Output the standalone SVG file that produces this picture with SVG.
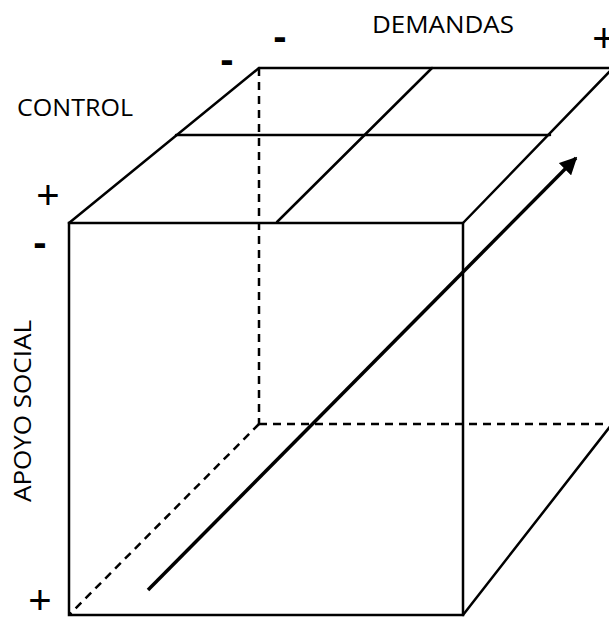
<svg xmlns="http://www.w3.org/2000/svg" width="609" height="617" viewBox="0 0 609 617">
<style>
.edge{fill:none;stroke:#000;stroke-width:2.5;stroke-linecap:round}
.hidden{fill:none;stroke:#000;stroke-width:2.5;stroke-dasharray:8 6}
.lbl{font-family:"Open Sans","Liberation Sans",sans-serif;font-size:24px;fill:#000}
.sign{font-family:"Liberation Sans",Arial,sans-serif;font-size:40px;fill:#000;text-anchor:middle}
</style>
<defs>
<marker id="ah" viewBox="0 0 10 10" refX="9" refY="5" markerWidth="5" markerHeight="5" orient="auto" markerUnits="strokeWidth">
<path d="M0,0 L10,5 L0,10 z" fill="#000"/>
</marker>
</defs>
<rect width="609" height="617" fill="#fff"/>
<g id="cube-hidden">
<line class="hidden" x1="259" y1="68" x2="259" y2="424"/>
<line class="hidden" x1="259" y1="424" x2="609" y2="424"/>
<line class="hidden" x1="259" y1="424" x2="69" y2="615"/>
</g>
<g id="cube">
<rect class="edge" x="69" y="223" width="394" height="392"/>
<line class="edge" x1="69" y1="223" x2="259" y2="68"/>
<line class="edge" x1="259" y1="68" x2="612" y2="68"/>
<line class="edge" x1="463" y1="223" x2="612" y2="69"/>
<line class="edge" x1="463" y1="615" x2="612" y2="424"/>
</g>
<g id="top-grid">
<line class="edge" x1="176" y1="135" x2="550" y2="135"/>
<line class="edge" x1="432" y1="68" x2="277" y2="222"/>
</g>
<g id="connectors">
<line x1="148" y1="590" x2="576" y2="158" stroke="#000" stroke-width="3.5" marker-end="url(#ah)"/>
</g>
<g id="labels">
<text class="lbl" x="443" y="33" text-anchor="middle" textLength="142" lengthAdjust="spacingAndGlyphs">DEMANDAS</text>
<text class="lbl" x="17" y="116" textLength="116" lengthAdjust="spacingAndGlyphs">CONTROL</text>
<text class="lbl" transform="translate(31,411) rotate(-90)" text-anchor="middle" textLength="182" lengthAdjust="spacingAndGlyphs">APOYO SOCIAL</text>
</g>
<g id="signs">
<text class="sign" x="48" y="209">+</text>
<text class="sign" x="40" y="256" font-weight="bold">-</text>
<text class="sign" x="40" y="614">+</text>
<text class="sign" x="227" y="73" font-weight="bold">-</text>
<text class="sign" x="280" y="50" font-weight="bold">-</text>
<text class="sign" x="604" y="52">+</text>
</g>
</svg>
